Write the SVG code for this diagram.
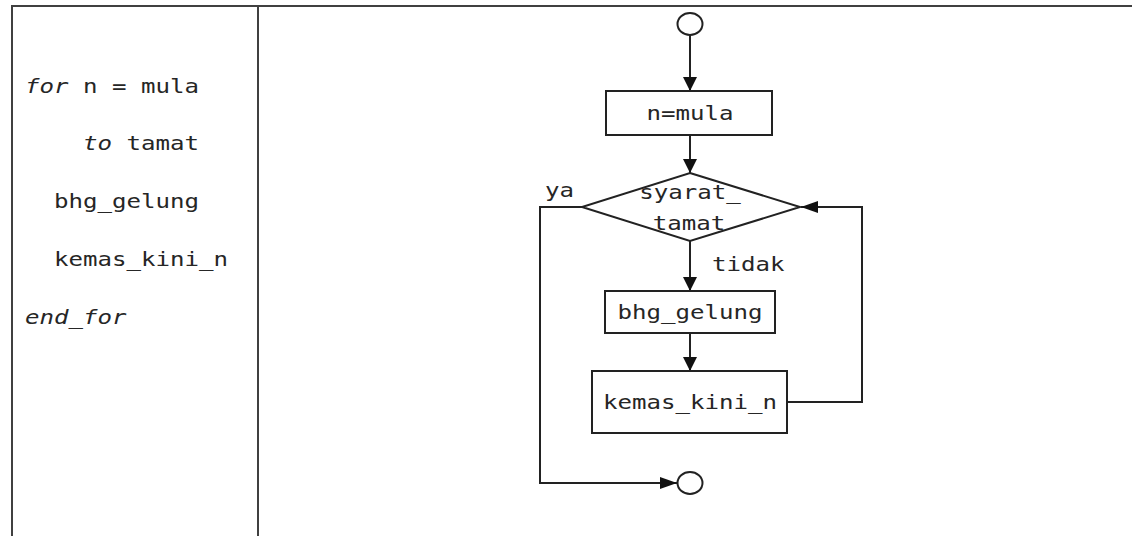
<svg xmlns="http://www.w3.org/2000/svg" width="1132" height="536" viewBox="0 0 1132 536">
  <defs>
    <style>
      .frame { fill: none; stroke: #404040; stroke-width: 2; }
      .shape { fill: #ffffff; stroke: #222222; stroke-width: 2; }
      .wire { fill: none; stroke: #222222; stroke-width: 2; }
      .code { font-family: "DejaVu Sans Mono", "Liberation Mono", monospace; font-size: 19.5px; fill: #262626; }
      .mid { text-anchor: middle; }
      .it { font-style: italic; }
    </style>
    <marker id="arrowV" markerUnits="userSpaceOnUse" markerWidth="15" markerHeight="15" refX="14" refY="7" orient="auto">
      <path d="M0,0 L14,7 L0,14 z" fill="#111111"/>
    </marker>
    <marker id="arrowH" markerUnits="userSpaceOnUse" markerWidth="18" markerHeight="13" refX="17" refY="6" orient="auto">
      <path d="M0,0 L17,6 L0,12 z" fill="#111111"/>
    </marker>
  </defs>

  <rect width="1132" height="536" fill="#ffffff"/>

  <!-- table frame -->
  <g id="frame">
    <path class="frame" d="M12,537 L12,6 L1133,6"/>
    <line class="frame" x1="258" y1="6" x2="258" y2="537"/>
  </g>

  <!-- pseudocode column -->
  <g id="pseudocode" class="code">
    <text x="25" y="93" textLength="174" lengthAdjust="spacingAndGlyphs"><tspan class="it">for</tspan> n = mula</text>
    <text x="83" y="150" textLength="116" lengthAdjust="spacingAndGlyphs"><tspan class="it">to</tspan> tamat</text>
    <text x="54" y="208" textLength="145" lengthAdjust="spacingAndGlyphs">bhg_gelung</text>
    <text x="54" y="266" textLength="174" lengthAdjust="spacingAndGlyphs">kemas_kini_n</text>
    <text x="25" y="324" textLength="101.5" lengthAdjust="spacingAndGlyphs" class="it">end_for</text>
  </g>

  <!-- connectors -->
  <g id="connectors">
    <line class="wire" x1="690" y1="35" x2="690" y2="91" marker-end="url(#arrowV)"/>
    <line class="wire" x1="690" y1="135" x2="690" y2="173" marker-end="url(#arrowV)"/>
    <line class="wire" x1="690" y1="241" x2="690" y2="291" marker-end="url(#arrowV)"/>
    <line class="wire" x1="690" y1="333" x2="690" y2="371" marker-end="url(#arrowV)"/>
    <path class="wire" d="M787,402 L862,402 L862,207 L801,207" marker-end="url(#arrowH)"/>
    <path class="wire" d="M582,207 L540,207 L540,483 L677,483" marker-end="url(#arrowH)"/>
    <text class="code" x="545" y="197" textLength="29" lengthAdjust="spacingAndGlyphs">ya</text>
    <text class="code" x="712" y="271" textLength="72.5" lengthAdjust="spacingAndGlyphs">tidak</text>
  </g>

  <g id="start">
    <ellipse class="shape" cx="690" cy="24" rx="12.5" ry="11"/>
  </g>

  <g id="init">
    <rect class="shape" x="606" y="91" width="166" height="44"/>
    <text class="code mid" x="690" y="120" textLength="87" lengthAdjust="spacingAndGlyphs">n=mula</text>
  </g>

  <g id="condition">
    <polygon class="shape" points="690,173 800,207 690,241 582,207"/>
    <text class="code mid" x="690" y="199" textLength="101.5" lengthAdjust="spacingAndGlyphs">syarat_</text>
    <text class="code mid" x="689" y="230" textLength="72.5" lengthAdjust="spacingAndGlyphs">tamat</text>
  </g>

  <g id="body">
    <rect class="shape" x="605" y="291" width="170" height="42"/>
    <text class="code mid" x="690" y="319" textLength="145" lengthAdjust="spacingAndGlyphs">bhg_gelung</text>
  </g>

  <g id="update">
    <rect class="shape" x="592" y="371" width="195" height="62"/>
    <text class="code mid" x="690" y="409" textLength="174" lengthAdjust="spacingAndGlyphs">kemas_kini_n</text>
  </g>

  <g id="end">
    <ellipse class="shape" cx="690" cy="483" rx="12.5" ry="11"/>
  </g>
</svg>
